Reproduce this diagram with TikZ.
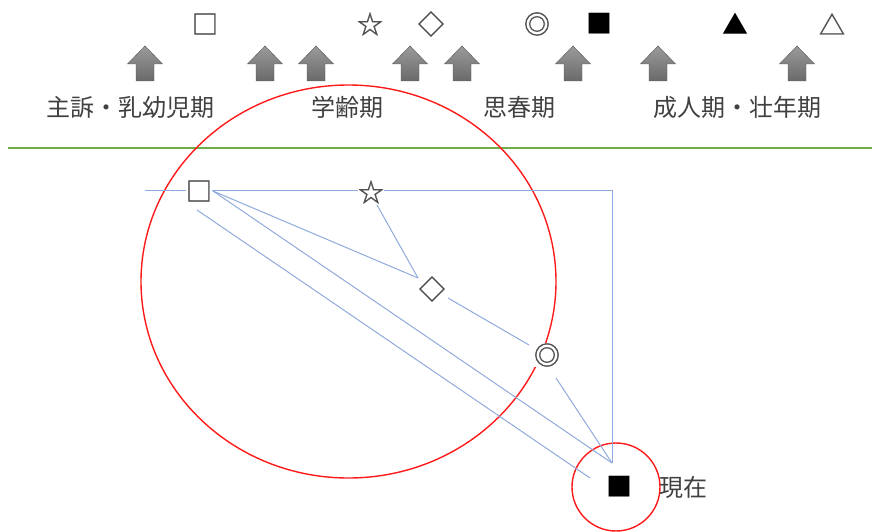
\documentclass[tikz,border=0pt]{standalone}
\usepackage{fontspec}
\newfontfamily\jp{Noto Sans CJK JP}
\newfontfamily\jpsym[FakeBold=1.2]{Noto Sans CJK JP}
\definecolor{lineblue}{HTML}{8FAADC}
\definecolor{redc}{HTML}{FF1A1A}
\definecolor{greenc}{HTML}{70AD47}
\definecolor{txt}{HTML}{404040}
\definecolor{symgray}{HTML}{505050}
\definecolor{arrtop}{HTML}{9A9A9A}
\definecolor{arrbot}{HTML}{6A6A6A}
\tikzset{
  lbl/.style={font=\jp\fontsize{24}{24}\selectfont, text=txt, inner sep=0pt},
  sym/.style={font=\jpsym\fontsize{26}{26}\selectfont, text=symgray, inner sep=0pt},
  symk/.style={font=\jp\fontsize{26}{26}\selectfont, text=black, inner sep=0pt},
  dsym/.style={sym, fill=white},
  conn/.style={draw=lineblue, line width=1pt},
  ring/.style={draw=redc, line width=1.4pt},
  uparrow/.style={top color=arrtop, bottom color=arrbot, draw=arrbot!80!black, line width=0.4pt}
}
\begin{document}
\begin{tikzpicture}[x=1pt,y=-1pt]
\useasboundingbox (0,0) rectangle (872,532);
% top symbols
\node[sym] (t1) at (205,24) {□};
\node[sym] (t2) at (370,24) {☆};
\node[sym] (t3) at (431,24) {◇};
\node[sym] (t4) at (537,24) {◎};
\node[symk] (t5) at (599,24) {■};
\node[symk] (t6) at (735,24) {▲};
\node[sym] (t7) at (832,24) {△};
% arrows
\foreach \c in {145,265,316,410,462,573,658,797}{
  \path[uparrow] (\c-17.5,64) -- (\c,46) -- (\c+17.5,64) -- (\c+9,64) -- (\c+9,81) -- (\c-9,81) -- (\c-9,64) -- cycle;
}
% labels
\node[lbl] (l1) at (130,107) {主訴・乳幼児期};
\node[lbl] (l2) at (347,107) {学齢期};
\node[lbl] (l3) at (519,107) {思春期};
\node[lbl] (l4) at (737,107) {成人期・壮年期};
% green separator
\coordinate (gL) at (8,148);
\coordinate (gR) at (872,148);
\draw[greenc, line width=1.3pt] (gL) -- (gR);
% red rings
\coordinate (bigc) at (348.5,281.5);
\draw[ring] (bigc) ellipse [x radius=207.5, y radius=196.5];
\coordinate (smc) at (616,487);
\draw[ring] (smc) circle [radius=44];
% blue frame
\coordinate (hL) at (145,190);
\coordinate (corner) at (612,190);
\coordinate (tip) at (612,463);
\draw[conn] (hL) -- (corner) -- (tip);
% diagram symbols
\node[dsym] (sq) at (199,191) {□};
\node[dsym] (st) at (371,192) {☆};
\node[dsym] (di) at (432,289) {◇};
\node[dsym] (dc) at (547,355) {◎};
\node[symk] (bs) at (619,487) {■};
\node[lbl] (now) at (683,487) {現在};
% connectors
\coordinate (sqE) at (213,191);
\coordinate (sqS) at (197,210);
\coordinate (conv) at (418,278);
\coordinate (stS) at (377,205);
\coordinate (diSE) at (448,298);
\coordinate (dcNW) at (529,345);
\coordinate (dcS) at (556,378);
\coordinate (bsW) at (590,478);
\draw[conn] (sqE) -- (conv);
\draw[conn] (stS) -- (conv);
\draw[conn] (sqE) -- (tip);
\draw[conn] (sqS) -- (bsW);
\draw[conn] (diSE) -- (dcNW);
\draw[conn] (dcS) -- (tip);
\end{tikzpicture}
\end{document}
